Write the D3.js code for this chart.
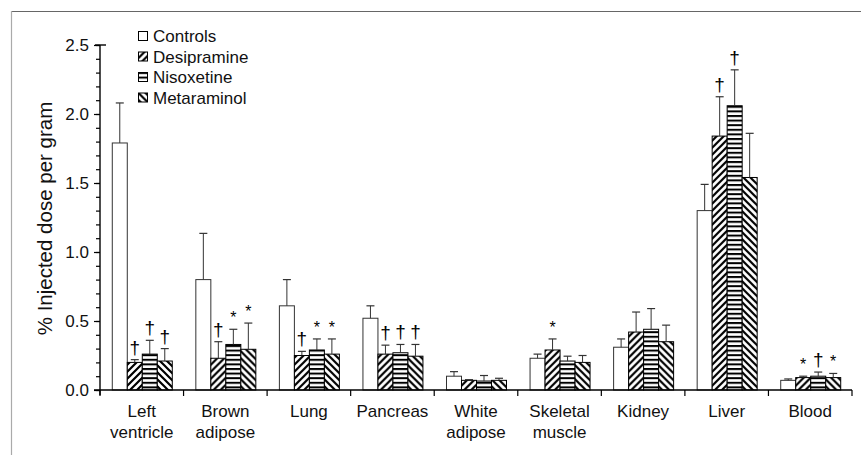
<!DOCTYPE html>
<html>
<head>
<meta charset="utf-8">
<script src="https://cdn.jsdelivr.net/npm/d3@7"></script>
<style>
  body { margin: 0; background: #fff; }
  svg text { font-family: "Liberation Sans", Arial, sans-serif; }
</style>
</head>
<body>
<div id="chart"></div>
<script>
// organs on the x axis (two-line labels)
const categories = ["Left ventricle", "Brown adipose", "Lung", "Pancreas", "White adipose",
  "Skeletal muscle", "Kidney", "Liver", "Blood"];
const categoryLines = [["Left", "ventricle"], ["Brown", "adipose"], ["Lung"], ["Pancreas"],
  ["White", "adipose"], ["Skeletal", "muscle"], ["Kidney"], ["Liver"], ["Blood"]];

const seriesNames = ["Controls", "Desipramine", "Nisoxetine", "Metaraminol"];

// mean values
const controls    = [1.79, 0.80, 0.61, 0.52, 0.10, 0.23, 0.31, 1.30, 0.07];
const desipramine = [0.20, 0.23, 0.25, 0.26, 0.07, 0.29, 0.42, 1.84, 0.09];
const nisoxetine  = [0.26, 0.33, 0.29, 0.27, 0.065, 0.21, 0.44, 2.06, 0.10];
const metaraminol = [0.21, 0.295, 0.26, 0.245, 0.07, 0.20, 0.35, 1.54, 0.09];

// error (upper bar only)
const controlsErr    = [0.29, 0.335, 0.19, 0.09, 0.033, 0.03, 0.06, 0.19, 0.01];
const desipramineErr = [0.02, 0.12, 0.03, 0.065, 0.005, 0.08, 0.145, 0.285, 0.01];
const nisoxetineErr  = [0.10, 0.11, 0.08, 0.06, 0.04, 0.035, 0.15, 0.26, 0.03];
const metaraminolErr = [0.09, 0.19, 0.11, 0.085, 0.015, 0.05, 0.12, 0.32, 0.03];

// significance marks
const controlsMarks    = ["", "", "", "", "", "", "", "", ""];
const desipramineMarks = ["†", "†", "†", "†", "", "*", "", "†", "*"];
const nisoxetineMarks  = ["†", "*", "*", "†", "", "", "", "†", "†"];
const metaraminolMarks = ["†", "*", "*", "†", "", "", "", "", "*"];

const yTicks = [0, 0.5, 1.0, 1.5, 2.0, 2.5];

const values = [controls, desipramine, nisoxetine, metaraminol];
const errs = [controlsErr, desipramineErr, nisoxetineErr, metaraminolErr];
const marks = [controlsMarks, desipramineMarks, nisoxetineMarks, metaraminolMarks];
const fills = ["#fff", "url(#diagUp)", "url(#horiz)", "url(#diagDown)"];

const W = 861, H = 455;
const plotL = 100, plotR = 852, plotT = 45, plotB = 390;
const FONT = "Liberation Sans, Arial, sans-serif";

const svg = d3.select("#chart").append("svg").attr("width", W).attr("height", H)
  .attr("font-family", FONT);

// frame lines of the figure panel
svg.append("line").attr("x1", 11).attr("x2", W).attr("y1", 11.5).attr("y2", 11.5)
  .attr("stroke", "#666").attr("stroke-width", 1.2);
svg.append("line").attr("x1", 11.5).attr("x2", 11.5).attr("y1", 11).attr("y2", H)
  .attr("stroke", "#aaa").attr("stroke-width", 1.2);

// hatch patterns
const defs = svg.append("defs");
const p1 = defs.append("pattern").attr("id", "diagUp").attr("patternUnits", "userSpaceOnUse")
  .attr("width", 7).attr("height", 7);
p1.append("rect").attr("width", 7).attr("height", 7).attr("fill", "#fff");
p1.append("path").attr("d", "M-1,8 L8,-1 M-2,2 L2,-2 M5,9 L9,5")
  .attr("stroke", "#000").attr("stroke-width", 2.2);
const p2 = defs.append("pattern").attr("id", "horiz").attr("patternUnits", "userSpaceOnUse")
  .attr("width", 8).attr("height", 4.6);
p2.append("rect").attr("width", 8).attr("height", 4.6).attr("fill", "#fff");
p2.append("rect").attr("y", 0).attr("width", 8).attr("height", 2).attr("fill", "#000");
const p3 = defs.append("pattern").attr("id", "diagDown").attr("patternUnits", "userSpaceOnUse")
  .attr("width", 7).attr("height", 7);
p3.append("rect").attr("width", 7).attr("height", 7).attr("fill", "#fff");
p3.append("path").attr("d", "M-1,-1 L8,8 M5,-2 L9,2 M-2,5 L2,9")
  .attr("stroke", "#000").attr("stroke-width", 2.2);

const x0 = d3.scaleBand().domain(categories).range([plotL, plotR]);
const bw = x0.bandwidth();
const x1 = d3.scaleBand().domain(seriesNames).range([(bw - 60) / 2, (bw + 60) / 2]);
const y = d3.scaleLinear().domain([0, 2.5]).range([plotB, plotT]);

// bars
const groups = svg.append("g").selectAll("g").data(categories).enter().append("g")
  .attr("transform", d => `translate(${x0(d)},0)`);

seriesNames.forEach((s, si) => {
  groups.append("rect")
    .attr("x", (d, i) => x1(s) + 0.5)
    .attr("y", (d, i) => y(values[si][i]))
    .attr("width", x1.bandwidth())
    .attr("height", (d, i) => plotB - y(values[si][i]))
    .attr("fill", fills[si])
    .attr("stroke", si === 0 ? "#333" : "#000")
    .attr("stroke-width", 1);

  // error bar (upper only)
  const cx = x1(s) + 0.5 + x1.bandwidth() / 2;
  groups.append("line")
    .attr("x1", cx).attr("x2", cx)
    .attr("y1", (d, i) => y(values[si][i]))
    .attr("y2", (d, i) => y(values[si][i] + errs[si][i]))
    .attr("stroke", "#333").attr("stroke-width", 1);
  groups.append("line")
    .attr("x1", cx - 4).attr("x2", cx + 4)
    .attr("y1", (d, i) => y(values[si][i] + errs[si][i]))
    .attr("y2", (d, i) => y(values[si][i] + errs[si][i]))
    .attr("stroke", "#333").attr("stroke-width", 1.2);

  // significance
  groups.append("text")
    .attr("x", cx)
    .attr("y", (d, i) => y(values[si][i] + errs[si][i]) - 6)
    .attr("text-anchor", "middle")
    .attr("font-family", FONT)
    .attr("font-size", (d, i) => marks[si][i] === "*" ? "16px" : "19px")
    .attr("fill", "#000")
    .text((d, i) => marks[si][i]);
});

// y axis
const yAxis = svg.append("g").attr("transform", `translate(${plotL},0)`)
  .call(d3.axisLeft(y).tickValues(d3.range(0, 2.51, 0.1)).tickSize(4).tickFormat(""));
yAxis.select(".domain").remove();
yAxis.selectAll("line").attr("stroke", "#000").attr("stroke-width", 1.2);
const yMajor = svg.append("g").attr("transform", `translate(${plotL},0)`)
  .call(d3.axisLeft(y).tickValues(yTicks).tickSize(6).tickPadding(5).tickFormat(d3.format(".1f")));
yMajor.select(".domain").remove();
yMajor.selectAll("line").attr("stroke", "#000").attr("stroke-width", 1.2);
yMajor.selectAll("text").attr("font-size", "17px").attr("fill", "#111")
  .attr("font-family", FONT);
svg.append("line").attr("x1", plotL).attr("x2", plotL).attr("y1", plotT).attr("y2", plotB + 5)
  .attr("stroke", "#000").attr("stroke-width", 1.4);
svg.append("line").attr("x1", plotL - 5).attr("x2", plotL + 6).attr("y1", plotT).attr("y2", plotT)
  .attr("stroke", "#000").attr("stroke-width", 1.4);

// x axis
svg.append("line").attr("x1", plotL - 6).attr("x2", plotR).attr("y1", plotB).attr("y2", plotB)
  .attr("stroke", "#000").attr("stroke-width", 1.6);
const xTickPos = categories.map(c => x0(c)).concat([plotR]);
svg.append("g").selectAll("line").data(xTickPos).enter().append("line")
  .attr("x1", d => d).attr("x2", d => d).attr("y1", plotB).attr("y2", plotB + 6)
  .attr("stroke", "#000").attr("stroke-width", 1.2);

const xl = svg.append("g").selectAll("text").data(categories).enter().append("text")
  .attr("x", d => x0(d) + bw / 2)
  .attr("y", 417)
  .attr("text-anchor", "middle")
  .attr("font-family", FONT)
  .attr("font-size", "17px")
  .attr("fill", "#111");
xl.each(function (d, i) {
  const t = d3.select(this);
  categoryLines[i].forEach((ln, k) => {
    t.append("tspan").attr("x", x0(d) + bw / 2).attr("dy", k === 0 ? 0 : 21).text(ln);
  });
});

// y label
svg.append("text")
  .attr("transform", `translate(52,${(plotT + plotB) / 2 + 1}) rotate(-90)`)
  .attr("text-anchor", "middle")
  .attr("font-family", FONT)
  .attr("font-size", "20.5px")
  .attr("fill", "#111")
  .text("% Injected dose per gram");

// legend
const legend = svg.append("g").attr("transform", "translate(138,31)");
seriesNames.forEach((s, i) => {
  const g = legend.append("g").attr("transform", `translate(0,${i * 20.5})`);
  g.append("rect").attr("x", 0.5).attr("y", 0.5).attr("width", 9).attr("height", 9)
    .attr("fill", fills[i]).attr("stroke", "#000").attr("stroke-width", 1);
  g.append("text").attr("x", 15).attr("y", 11).attr("font-family", FONT)
    .attr("font-size", "17px").attr("fill", "#111").text(s);
});
</script>
</body>
</html>
